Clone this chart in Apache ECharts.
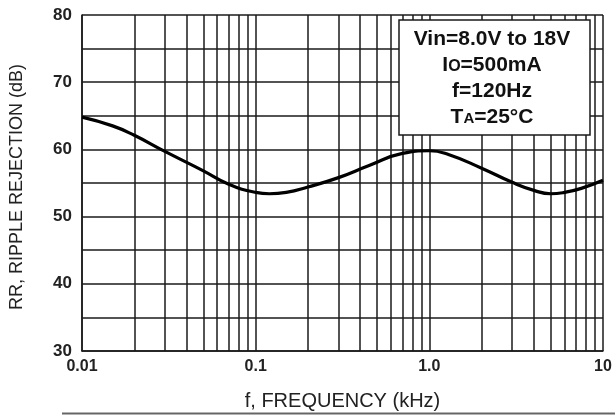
<!DOCTYPE html>
<html>
<head>
<meta charset="utf-8">
<script src="https://cdn.jsdelivr.net/npm/echarts@6/dist/echarts.min.js"></script>
<style>html,body{margin:0;padding:0;background:#fff}#c{width:615px;height:416px}</style>
</head>
<body>
<div id="c"></div>
<script>
const freqKHz = [0.01, 0.015, 0.02, 0.03, 0.05, 0.07, 0.1, 0.12, 0.15, 0.2, 0.3, 0.45, 0.7, 1.0, 1.3, 2.0, 3.0, 4.0, 5.0, 6.0, 7.5, 10];
const rippleDb = [64.8, 63.5, 62.1, 59.7, 56.8, 54.8, 53.6, 53.4, 53.6, 54.4, 55.8, 57.6, 59.4, 59.8, 59.2, 57.2, 55.1, 53.9, 53.4, 53.6, 54.2, 55.4];
const xTickLabels = {"0.01": "0.01", "0.1": "0.1", "1": "1.0", "10": "10"};
const minorFreqs = [0.02,0.03,0.04,0.05,0.06,0.07,0.08,0.09,0.2,0.3,0.4,0.5,0.6,0.7,0.8,0.9,2,3,4,5,6,7,8,9];
const noteLines = ["Vin=8.0V to 18V", "Io=500mA", "f=120Hz", "TA=25°C"];

const chart = echarts.init(document.getElementById('c'), null, {renderer: 'canvas'});
const font = '"Liberation Sans", Arial, sans-serif';
const gridColor = '#1a1a1a';
const boxFont = 21;

chart.setOption({
  animation: false,
  backgroundColor: '#fff',
  grid: {left: 82, right: 12, top: 15, bottom: 63, show: false},
  xAxis: {
    type: 'log', logBase: 10, min: 0.01, max: 10,
    name: 'f, FREQUENCY (kHz)', nameLocation: 'middle', nameGap: 40,
    nameTextStyle: {fontFamily: font, fontSize: 20, color: '#222'},
    axisLine: {show: true, lineStyle: {color: gridColor, width: 1.5}},
    axisTick: {show: false},
    axisLabel: {
      margin: 8, fontFamily: font, fontSize: 16, fontWeight: 'bold', color: '#222',
      formatter: v => { const k = String(+v.toPrecision(3)); return xTickLabels[k] || ''; }
    },
    splitLine: {show: true, lineStyle: {color: gridColor, width: 1.5}}
  },
  yAxis: {
    type: 'value', min: 30, max: 80, interval: 5,
    axisLine: {show: true, lineStyle: {color: gridColor, width: 1.5}},
    axisTick: {show: false},
    axisLabel: {
      margin: 10, fontFamily: font, fontSize: 17, fontWeight: 'bold', color: '#222',
      formatter: v => (v % 10 === 0 ? String(v) : '')
    },
    splitLine: {show: true, lineStyle: {color: gridColor, width: 1.5}}
  },
  series: [{
    type: 'line',
    data: freqKHz.map((f, i) => [f, rippleDb[i]]),
    smooth: 0.5,
    showSymbol: false,
    lineStyle: {color: '#000', width: 3.2},
    z: 5,
    markLine: {
      silent: true, symbol: 'none', label: {show: false},
      lineStyle: {color: gridColor, width: 1.5, type: 'solid'},
      data: minorFreqs.map(f => ({xAxis: f})),
      z: 1
    }
  }],
  graphic: [
    {type: 'text', x: 17, y: 187, rotation: Math.PI / 2,
     style: {text: 'RR, RIPPLE REJECTION (dB)', fontFamily: font, fontSize: 18, fill: '#222', align: 'center', verticalAlign: 'middle'}},
    {type: 'rect', shape: {x: 399, y: 20, width: 191, height: 115},
     style: {fill: '#fff', stroke: '#1a1a1a', lineWidth: 1.5}, z: 100},
    {type: 'text', x: 492, y: 39, z: 101,
     style: {text: noteLines[0], fontFamily: font, fontSize: boxFont, fontWeight: 'bold', fill: '#111', align: 'center', verticalAlign: 'middle'}},
    {type: 'text', x: 492, y: 65, z: 101,
     style: {text: '{b|I}{s|O}{b|=500mA}', align: 'center', verticalAlign: 'middle',
       rich: {b: {fontFamily: font, fontSize: boxFont, fontWeight: 'bold', fill: '#111'},
              s: {fontFamily: font, fontSize: 16, fontWeight: 'bold', fill: '#111', padding: [4, 0, 0, 0]}}}},
    {type: 'text', x: 492, y: 91, z: 101,
     style: {text: noteLines[2], fontFamily: font, fontSize: boxFont, fontWeight: 'bold', fill: '#111', align: 'center', verticalAlign: 'middle'}},
    {type: 'text', x: 492, y: 117, z: 101,
     style: {text: '{b|T}{s|A}{b|=25°C}', align: 'center', verticalAlign: 'middle',
       rich: {b: {fontFamily: font, fontSize: boxFont, fontWeight: 'bold', fill: '#111'},
              s: {fontFamily: font, fontSize: 15, fontWeight: 'bold', fill: '#111', padding: [4, 0, 0, 0]}}}},
    {type: 'line', shape: {x1: 62, y1: 413.5, x2: 615, y2: 413.5}, style: {stroke: '#666', lineWidth: 2}}
  ]
});
</script>
</body>
</html>
